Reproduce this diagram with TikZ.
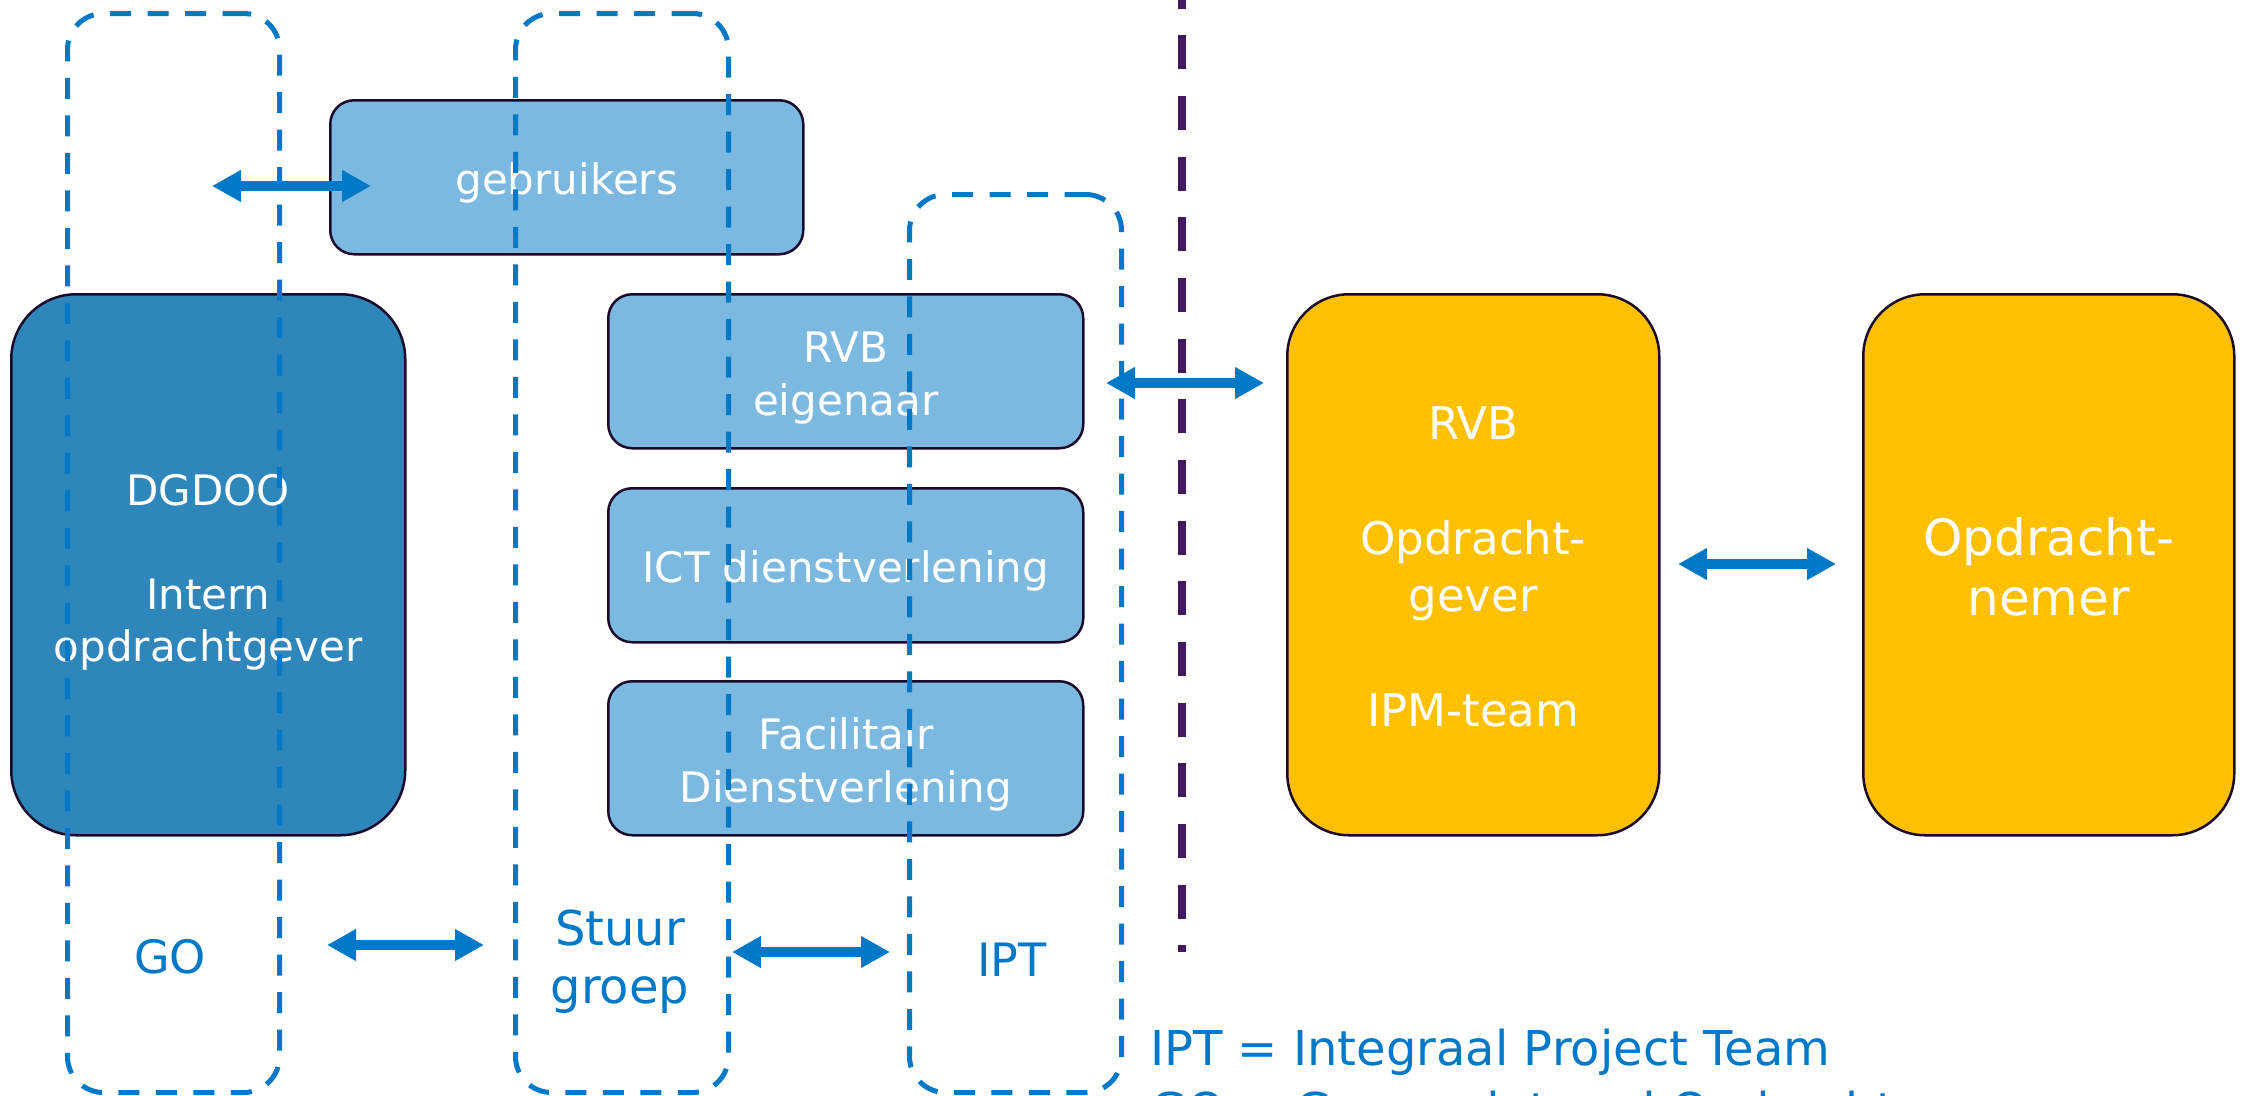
\documentclass[tikz,border=0pt]{standalone}
\usepackage{fontspec}
\setmainfont{DejaVu Sans}
\usetikzlibrary{arrows.meta}
\definecolor{lineblue}{RGB}{0,120,200}
\definecolor{darkblue}{RGB}{46,134,187}
\definecolor{lightblue}{RGB}{124,185,224}
\definecolor{gold}{RGB}{255,192,0}
\definecolor{purpleline}{RGB}{68,24,95}
\definecolor{boxborder}{RGB}{26,11,43}
\newcommand\myup[1]{\rule{0pt}{#1em}}
\begin{document}
\begin{tikzpicture}[x=1pt,y=-1pt,
  basebox/.style={draw=boxborder, line width=2.5pt, rectangle, anchor=north west, align=center, text=white, inner sep=0pt},
  lbox/.style={basebox, fill=lightblue, rounded corners=24pt, font=\fontsize{42}{53}\selectfont, minimum width=475pt, minimum height=154pt},
  dbox/.style={basebox, fill=darkblue, rounded corners=65pt, font=\fontsize{42}{52}\selectfont},
  ybox/.style={basebox, fill=gold, rounded corners=62pt},
  groupframe/.style={draw=lineblue, line width=5pt, dash pattern=on 21pt off 16.5pt, rounded corners=36pt, rectangle, anchor=north west, inner sep=0pt},
  lbl/.style={text=lineblue, align=center, inner sep=0pt},
  dbl/.style={draw=lineblue, line width=10pt, {Triangle[length=29pt,width=30pt]}-{Triangle[length=29pt,width=30pt]}},
  divider/.style={draw=purpleline, line width=8.7pt, dash pattern=on 34pt off 26.67pt}
]
\useasboundingbox (0,0) rectangle (2242,1095);
\clip (0,0) rectangle (2242,1095);

% boxes
\node[lbox, minimum width=473pt] (gebr) at (329,99) {\myup{1.05}gebruikers};
\node[dbox, minimum width=394pt, minimum height=541pt] (dgdoo) at (10,293) {\myup{1.1}DGDOO\\\mbox{}\\Intern\\opdrachtgever};
\node[lbox] (rvbe) at (607,293) {\myup{1.05}RVB\\eigenaar};
\node[lbox] (ict) at (607,487) {\myup{1.05}ICT dienstverlening};
\node[lbox] (fac) at (607,680) {\myup{1.05}Facilitair\\Dienstverlening};
\node[ybox, font=\fontsize{45}{57.4}\selectfont, minimum width=372pt, minimum height=541pt] (rvb) at (1286,293) {\myup{0.82}RVB\\\mbox{}\\Opdracht-\\gever\\\mbox{}\\IPM-team};
\node[ybox, font=\fontsize{50}{60}\selectfont, minimum width=371pt, minimum height=541pt] (onemer) at (1862,293) {\myup{0.86}Opdracht-\\nemer};

% dashed group frames
\node[groupframe, minimum width=212pt, minimum height=1079pt] (goF) at (65,11) {};
\node[groupframe, minimum width=213pt, minimum height=1079pt] (stF) at (513,11) {};
\node[groupframe, minimum width=212pt, minimum height=898pt] (iptF) at (907,192) {};

% divider
\coordinate (dtop) at (1182,-25.3);
\coordinate (dbot) at (1182,952);
\draw[divider] (dtop) -- (dbot);

% arrows
\coordinate (a1l) at (212,186);  \coordinate (a1r) at (371,186);
\coordinate (a2l) at (1106,383); \coordinate (a2r) at (1264,383);
\coordinate (a3l) at (1678,564); \coordinate (a3r) at (1836,564);
\coordinate (a4l) at (327,945);  \coordinate (a4r) at (484,945);
\coordinate (a5l) at (732,952);  \coordinate (a5r) at (890,952);
\draw[dbl] (a1l) -- (a1r);
\draw[dbl] (a2l) -- (a2r);
\draw[dbl] (a3l) -- (a3r);
\draw[dbl] (a4l) -- (a4r);
\draw[dbl] (a5l) -- (a5r);

% labels
\node[lbl, font=\fontsize{46}{56}\selectfont] (golbl) at (170,957) {GO};
\node[lbl, font=\fontsize{48}{58}\selectfont] (stlbl) at (620,962) {Stuur\\groep};
\node[lbl, font=\fontsize{46}{56}\selectfont] (iptlbl) at (1012,960) {IPT};
\node[lbl, align=left, anchor=north west, font=\fontsize{48}{62}\selectfont] (legend) at (1150,1029) {IPT = Integraal Project Team\\GO = Gemandateerd Opdrachtgever};
\end{tikzpicture}
\end{document}
